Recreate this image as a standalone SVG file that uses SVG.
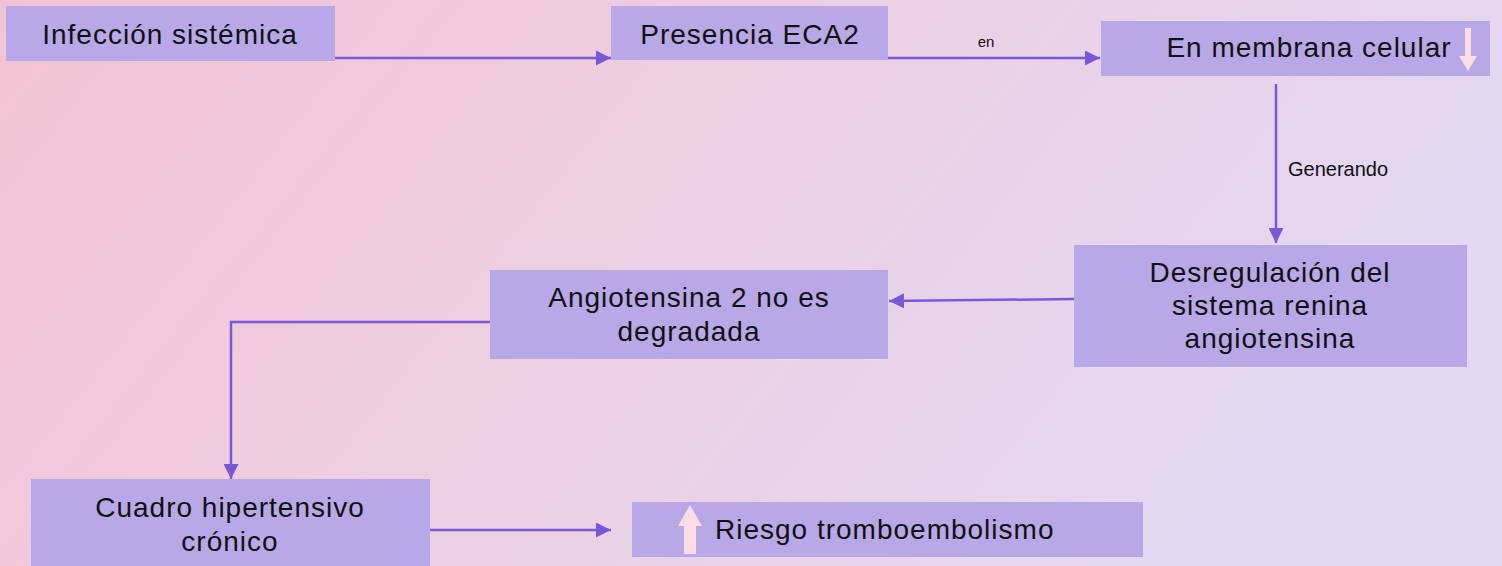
<svg xmlns="http://www.w3.org/2000/svg" width="1502" height="566" viewBox="0 0 1502 566">
<defs>
<linearGradient id="bg" x1="0" y1="0" x2="1" y2="0.3">
<stop offset="0" stop-color="#F3C3D3"/>
<stop offset="0.5" stop-color="#EDCFE2"/>
<stop offset="1" stop-color="#E3D8F2"/>
</linearGradient>
<marker id="ah" viewBox="0 0 10 10" refX="10" refY="5" markerWidth="6" markerHeight="6" markerUnits="strokeWidth" orient="auto">
<path d="M0,0 L10,5 L0,10 Z" fill="#7858D8"/>
</marker>
<style>
.box{fill:#B8A8E8;}
.t{font-family:"Century Gothic","URW Gothic","Liberation Sans",Arial,sans-serif;font-size:28px;letter-spacing:1px;fill:#111;text-anchor:middle;}
.ts{text-anchor:start;}
.lbl{font-family:"Liberation Sans",Arial,sans-serif;fill:#111;}
.c{fill:none;stroke:#7858D8;stroke-width:2.5;marker-end:url(#ah);}
.ico{fill:#FBDDE6;}
</style>
</defs>
<rect x="0" y="0" width="1502" height="566" fill="url(#bg)"/>
<g id="connectors">
<polyline class="c" points="335,58 611,58"/>
<polyline class="c" points="888,58 1100,58"/>
<text class="lbl" x="986" y="47" font-size="15" text-anchor="middle">en</text>
<polyline class="c" points="1276,84 1276,243"/>
<text class="lbl" x="1288" y="176" font-size="20">Generando</text>
<polyline class="c" points="1074,299 889,301"/>
<polyline class="c" points="490,322 231,322 231,479"/>
<polyline class="c" points="430,530 611,530"/>
</g>
<g id="n1">
<rect class="box" x="6" y="6" width="329" height="55"/>
<text class="t" x="170" y="44">Infección sistémica</text>
</g>
<g id="n2">
<rect class="box" x="611" y="6" width="277" height="54"/>
<text class="t" x="750" y="44">Presencia ECA2</text>
</g>
<g id="n3">
<rect class="box" x="1101" y="21" width="389" height="55"/>
<text class="t" x="1309" y="57">En membrana celular</text>
<path class="ico" d="M1465,28 h6 v28 h6 l-9,15 l-9,-15 h6 Z"/>
</g>
<g id="n4">
<rect class="box" x="1074" y="245" width="393" height="122"/>
<text class="t" x="1270" y="282">Desregulación del</text>
<text class="t" x="1270" y="315">sistema renina</text>
<text class="t" x="1270" y="348">angiotensina</text>
</g>
<g id="n5">
<rect class="box" x="490" y="270" width="398" height="89"/>
<text class="t" x="689" y="307">Angiotensina 2 no es</text>
<text class="t" x="689" y="341">degradada</text>
</g>
<g id="n6">
<rect class="box" x="31" y="479" width="399" height="87"/>
<text class="t" x="230" y="517">Cuadro hipertensivo</text>
<text class="t" x="230" y="551">crónico</text>
</g>
<g id="n7">
<rect class="box" x="632" y="502" width="511" height="55"/>
<path class="ico" d="M690,505 l12,21 h-6 v28 h-12 v-28 h-6 Z"/>
<text class="t ts" x="715" y="539">Riesgo tromboembolismo</text>
</g>
</svg>
